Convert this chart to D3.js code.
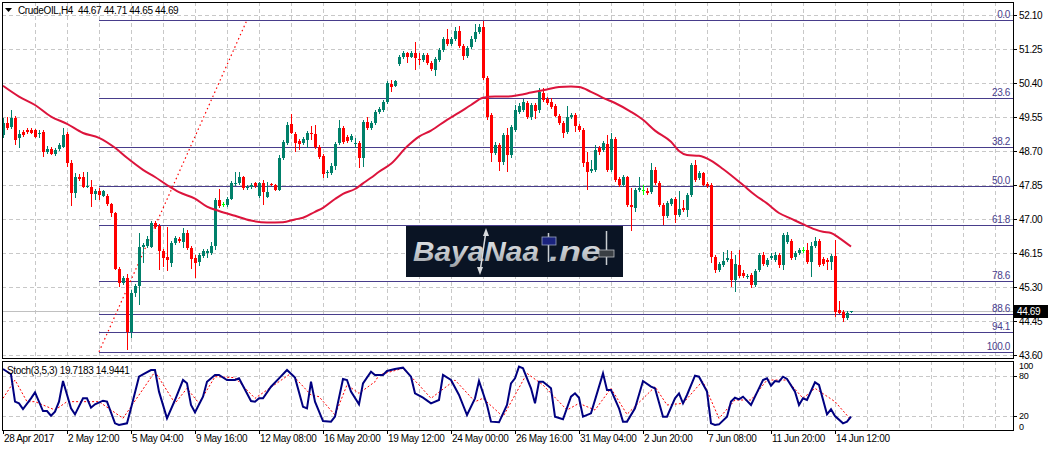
<!DOCTYPE html>
<html><head><meta charset="utf-8">
<script src="https://cdn.jsdelivr.net/npm/d3@7"></script>
<style>
body{margin:0;background:#fff;}
svg{display:block;font-family:"Liberation Sans",Arial,sans-serif;}
</style></head><body>
<svg id="c" width="1053" height="451"></svg>
<script>
// ---------- DATA ----------
const opens = [49.10,49.40,49.30,49.53,49.03,49.18,49.23,49.23,49.23,49.13,49.18,48.68,48.75,48.63,48.75,48.80,49.13,48.40,47.65,48.05,48.05,47.80,47.80,47.63,47.70,47.58,47.58,47.38,47.15,45.75,45.40,45.53,44.18,45.15,45.33,46.30,46.33,46.30,46.90,46.83,46.20,46.05,45.90,46.40,46.50,46.43,46.65,46.28,46.03,45.93,46.08,46.15,46.15,46.33,47.48,47.38,47.35,47.50,47.88,47.90,48.05,47.78,47.80,47.90,47.58,47.90,47.55,47.88,47.85,47.73,48.53,48.90,49.38,49.13,48.95,48.90,48.98,49.15,49.13,48.80,48.58,48.15,48.15,48.33,48.90,49.28,49.05,48.98,48.88,48.90,48.53,49.43,49.28,49.40,49.68,49.73,49.93,50.38,50.33,50.88,51.05,51.15,51.05,51.15,51.00,50.98,51.10,50.90,50.73,50.98,51.23,51.50,51.38,51.50,51.70,51.33,51.08,51.30,51.50,51.68,51.80,50.53,49.60,48.65,48.85,48.43,49.10,48.60,49.23,49.68,49.73,49.90,49.55,49.85,49.73,50.15,50.00,49.93,49.83,49.58,49.40,49.18,49.55,49.60,49.33,49.23,48.43,48.20,48.23,48.78,48.73,48.88,48.23,49.00,48.00,47.85,48.05,47.35,47.28,47.73,47.73,47.70,47.68,48.23,47.90,47.35,47.08,47.38,47.50,47.10,47.28,47.23,47.60,48.35,48.03,48.15,47.88,47.85,46.05,45.73,45.85,45.98,46.00,45.48,45.85,45.65,45.55,45.60,45.35,45.73,46.10,45.85,46.03,45.98,46.10,45.85,46.43,46.45,46.05,46.15,46.23,46.23,45.93,46.33,46.45,46.00,45.98,45.93,46.08,44.73,44.68,44.53,44.67];
const highs = [49.53,49.55,49.73,49.58,49.23,49.23,49.28,49.28,49.25,49.23,49.23,48.83,48.80,48.78,48.90,49.28,49.18,48.48,48.15,48.13,48.18,48.18,47.98,47.75,47.78,47.73,47.63,47.40,47.18,45.80,45.58,45.63,45.23,45.38,46.65,46.40,46.58,46.95,46.95,46.88,46.25,46.80,46.45,46.58,46.55,46.78,46.73,46.33,46.10,46.15,46.25,46.25,46.43,47.53,47.75,47.43,47.55,47.95,48.18,48.18,48.08,47.85,47.90,47.93,47.93,47.98,47.93,47.90,47.88,48.60,48.98,49.43,49.63,49.18,49.00,49.05,49.20,49.33,49.35,48.85,48.63,48.23,48.40,48.93,49.48,49.33,49.10,49.13,49.03,48.95,49.48,49.55,49.45,49.73,49.80,49.98,50.45,50.48,50.48,51.10,51.20,51.18,51.20,51.43,51.15,51.15,51.15,50.95,51.05,51.28,51.55,51.75,51.55,51.80,51.83,51.38,51.33,51.58,51.88,51.88,51.95,50.58,49.65,48.93,48.90,49.15,49.28,49.35,49.85,49.90,50.00,49.95,49.90,49.90,50.28,50.28,50.05,50.03,49.88,49.63,49.45,49.83,49.65,49.65,49.38,49.28,48.68,48.48,48.85,48.83,48.95,49.10,49.15,49.05,48.05,48.10,48.08,47.78,47.78,48.05,47.85,47.78,48.40,48.30,47.95,47.40,47.45,47.53,47.55,47.70,47.48,47.65,48.40,48.48,48.20,48.18,47.93,47.90,46.10,45.93,46.18,46.23,46.20,46.10,46.23,45.73,45.63,45.65,45.75,46.15,46.18,46.03,46.15,46.18,46.15,46.65,46.68,46.50,46.20,46.28,46.30,46.40,46.43,46.55,46.50,46.05,46.03,46.13,46.48,44.95,44.73,44.70,44.71];
const lows = [49.03,49.23,49.25,48.85,48.78,49.05,49.13,49.13,49.03,49.03,48.55,48.63,48.60,48.58,48.70,48.78,48.30,47.33,47.53,47.95,47.78,47.78,47.30,47.48,47.48,47.55,47.33,47.05,45.73,45.30,45.35,43.73,44.03,45.05,44.85,45.90,46.28,46.28,46.75,45.73,45.80,45.70,45.80,46.35,46.40,46.28,46.23,45.75,45.53,45.83,46.03,46.03,46.10,46.23,47.28,47.30,47.30,47.48,47.83,47.85,47.73,47.73,47.75,47.78,47.53,47.35,47.53,47.83,47.70,47.70,48.48,48.85,49.13,48.68,48.73,48.85,48.78,48.98,48.75,48.50,48.03,48.03,48.10,48.23,48.85,48.88,48.90,48.93,48.78,48.28,48.30,49.23,49.23,49.35,49.63,49.68,49.88,50.18,50.30,50.83,51.00,50.90,51.03,50.73,50.85,50.93,50.85,50.70,50.58,50.93,51.18,51.33,51.33,51.45,51.28,50.98,51.03,51.25,51.43,51.63,50.48,49.48,48.43,48.60,48.20,48.35,48.18,48.53,49.18,49.63,49.68,49.50,49.48,49.50,49.65,49.93,49.85,49.75,49.55,49.35,49.03,49.13,49.50,49.18,49.18,48.30,47.73,48.15,48.18,48.60,48.68,48.18,48.18,47.93,47.80,47.80,47.30,46.70,47.18,47.68,47.60,47.60,47.63,47.85,47.30,46.85,47.03,47.33,46.90,47.05,47.18,47.05,47.55,47.93,47.98,47.83,47.78,45.90,45.65,45.68,45.80,45.93,45.30,45.18,45.53,45.53,45.50,45.28,45.30,45.68,45.83,45.80,45.98,45.93,45.78,45.73,46.38,45.98,45.98,46.10,46.15,45.88,45.55,46.28,45.80,45.83,45.73,45.73,44.55,44.63,44.43,44.48,44.65];
const closes = [49.40,49.28,49.53,48.98,49.13,49.10,49.18,49.15,49.05,49.15,48.68,48.75,48.63,48.73,48.85,49.10,48.40,47.65,48.05,48.00,47.80,47.83,47.63,47.70,47.60,47.70,47.38,47.15,45.75,45.40,45.53,44.18,45.15,45.33,46.30,46.35,46.50,46.90,46.80,46.20,46.03,45.98,46.40,46.53,46.45,46.65,46.28,46.00,45.90,46.10,46.20,46.20,46.33,47.48,47.33,47.38,47.50,47.90,47.90,48.05,47.78,47.80,47.85,47.83,47.90,47.68,47.68,47.85,47.73,48.53,48.93,49.35,49.15,48.90,48.88,49.00,49.15,49.13,48.80,48.55,48.13,48.18,48.33,48.88,49.28,48.93,48.95,49.08,48.90,48.53,49.43,49.28,49.40,49.68,49.75,49.93,50.40,50.30,50.45,51.05,51.15,51.05,51.15,51.03,50.98,51.10,50.90,50.75,51.00,51.23,51.50,51.38,51.50,51.70,51.33,51.08,51.28,51.50,51.68,51.80,50.53,49.55,48.65,48.85,48.43,49.10,48.60,49.30,49.73,49.83,49.93,49.55,49.85,49.70,50.18,49.98,49.90,49.80,49.58,49.40,49.15,49.55,49.60,49.33,49.23,48.40,48.18,48.25,48.73,48.68,48.90,48.23,49.00,47.98,47.85,48.05,47.35,47.30,47.73,47.78,47.73,47.65,48.23,47.90,47.35,47.08,47.40,47.50,47.10,47.25,47.23,47.60,48.35,47.98,48.15,47.85,47.83,46.05,45.73,45.88,45.95,46.03,45.48,45.88,45.58,45.58,45.58,45.35,45.70,46.10,45.88,45.98,46.08,46.10,45.85,46.60,46.60,46.03,46.15,46.23,46.23,45.93,46.33,46.45,45.85,45.88,45.93,46.08,44.68,44.65,44.53,44.65,44.69];

// moving average (read at sample bars)
const maIdx = [0,4,8,12,16,20,24,28,31,35,38,41,44,48,51,54,58,62,66,70,73,75,78,80,83,85,88,90,92,94,97,101,104,107,111,114,117,120,123,126,129,132,136,139,142,144,147,150,153,157,160,163,167,169,171,174,177,180,185,188,191,194,197,200,203,205,207,209,212];
const maVal = [50.33,50.06,49.85,49.56,49.38,49.15,49.03,48.78,48.53,48.23,48.05,47.85,47.67,47.51,47.31,47.20,47.08,46.96,46.91,46.92,46.99,47.03,47.18,47.28,47.50,47.63,47.75,47.89,48.03,48.18,48.38,48.81,49.06,49.21,49.48,49.66,49.85,50.03,50.06,50.06,50.10,50.16,50.24,50.30,50.31,50.30,50.18,50.03,49.90,49.68,49.48,49.21,48.93,48.70,48.60,48.58,48.46,48.25,47.85,47.60,47.39,47.15,47.01,46.87,46.74,46.68,46.65,46.53,46.31];

// stochastic %K and %D (read at sample bars)
const kIdx = [0,2,3,4,5,7,8,10,11,12,13,14,15,17,18,20,21,22,23,25,26,28,29,31,32,34,35,37,38,39,41,43,45,46,47,48,50,51,53,54,56,58,59,62,63,64,65,67,69,71,73,75,76,77,78,80,82,83,85,86,87,89,90,92,93,95,96,98,100,102,103,105,107,109,110,112,114,116,118,119,121,122,124,126,127,128,129,130,132,133,134,135,137,138,140,142,143,144,145,147,150,151,152,154,155,156,158,160,162,163,165,166,168,169,170,171,173,174,176,177,178,179,181,182,183,184,185,187,188,190,191,192,193,194,195,196,198,199,200,201,203,204,206,207,208,210,211,212];
const kVal = [89.7,82,41.7,39.2,30.9,46.6,55.4,27.9,27.9,21,26.9,41.7,72,31.9,23,46.6,46.6,32.8,37.8,43.1,41.7,9.8,7.4,9.8,31.9,78.4,81.9,88.2,88.2,56.4,17.2,44.1,73.5,68.6,36.8,26,49,71,80.9,80.9,73.5,73.5,76,42.6,41.7,46.6,46.6,63.7,76,88.2,77,34.3,31.9,71,41.7,13.2,12.3,19.6,75,73.5,56.4,37.8,68.6,85.8,80.9,80.9,86.8,89.7,91.7,78.4,53.9,47.5,39.2,44.1,80.9,73.5,51.5,22,46.6,72,36.8,12.3,11.3,36.8,68.6,76,93.1,90.7,61.3,39.2,71,71,61.3,19.6,15.7,49,53.9,47.5,19.6,24.5,83.3,58.8,58.8,31.9,12.3,12.3,31.9,72,63.7,61.3,19.6,19.6,46.6,53.9,39.2,51.5,79.9,78.4,56.4,9.8,7.4,8.3,19.6,41.7,47.5,45.1,49,36.8,49,73.5,76,65.2,72,71,78.4,75,56.4,36.8,46.6,44.1,70.1,66.2,23,30.4,20.6,9.8,12.3,19.7];
const dIdx = [0,3,6,8,13,16,24,30,38,43,46,49,53,58,63,72,77,79,83,86,89,93,94,100,104,107,113,118,120,125,131,135,141,144,148,152,156,163,166,170,174,175,179,183,187,191,196,200,203,208,212];
const dVal = [46.6,73.5,41.7,41.7,29.4,41.7,41.7,17.2,85.8,39.2,61.3,39.2,78.4,77,46.6,83.3,51.5,49,22,66.2,53.9,71,80.9,90.7,66.2,46.6,73.5,41.7,46.6,19.6,83.3,66.2,29.4,39.2,29.4,61.3,23,63.7,36.8,39.2,66.2,71,17.2,44.1,44.1,73.5,73.5,46.6,61.3,41.7,14.9];

const priceTicks = [52.10,51.25,50.40,49.55,48.70,47.85,47.00,46.15,45.30,44.45,43.60];
const dateIdx = [0,16,32,48,64,80,96,112,128,144,160,176,192,208];
const dateLabels = ["28 Apr 2017","2 May 12:00","5 May 04:00","9 May 16:00","12 May 08:00","16 May 20:00","19 May 12:00","24 May 00:00","26 May 16:00","31 May 04:00","2 Jun 20:00","7 Jun 08:00","11 Jun 20:00","14 Jun 12:00"];
const fibLevels = [0,23.6,38.2,50,61.8,78.6,88.6,94.1,100];
const fibHigh = 51.975, fibLow = 43.68, fibStartIdx = 24, fibEndIdx = 61;
const bid = 44.69;
const stochLevels = [80,20];
const stochAxis = [100,80,20,0];
const title = "CrudeOIL,H4  44.67 44.71 44.65 44.69";
const stochTitle = "Stoch(3,5,3) 19.7183 14.9441";

// ---------- LAYOUT ----------
const L = 2, R = 1013, MT = 2, MB = 358, ST = 361, SB = 430;
const x = d3.scaleLinear().domain([0, 212]).range([3, 851]);
const y = d3.scaleLinear().domain([43.60, 52.10]).range([355, 15]);
const ys = d3.scaleLinear().domain([0, 100]).range([SB, ST + 1]);
const svg = d3.select("#c");
const FONT = 10, LS = "-0.35px";
const gridC = "#c8c8c8", fibC = "#483d8b";

svg.append("rect").attr("width", 1053).attr("height", 451).attr("fill", "#fff");
const defs = svg.append("defs");
defs.append("clipPath").attr("id", "cm").append("rect").attr("x", L).attr("y", MT).attr("width", R - L).attr("height", MB - MT);
defs.append("clipPath").attr("id", "cs").append("rect").attr("x", L).attr("y", ST).attr("width", R - L).attr("height", SB - ST);
const lg = defs.append("linearGradient").attr("id", "silver").attr("x1", 0).attr("y1", 0).attr("x2", 0).attr("y2", 1);
lg.append("stop").attr("offset", "0").attr("stop-color", "#e6e8ea");
lg.append("stop").attr("offset", "0.55").attr("stop-color", "#c3c7cb");
lg.append("stop").attr("offset", "1").attr("stop-color", "#9aa0a6");

const main = svg.append("g").attr("clip-path", "url(#cm)");
const vGrid = d3.range(8, 250, 8);
// grid
main.selectAll(".vg").data(vGrid).join("line")
  .attr("x1", d => Math.round(x(d)) + 0.5).attr("x2", d => Math.round(x(d)) + 0.5)
  .attr("y1", MT).attr("y2", MB).attr("stroke", gridC).attr("stroke-dasharray", "4,3");
main.selectAll(".hg").data(priceTicks).join("line")
  .attr("x1", L).attr("x2", R).attr("y1", d => Math.round(y(d)) + 0.5).attr("y2", d => Math.round(y(d)) + 0.5)
  .attr("stroke", gridC).attr("stroke-dasharray", "4,3");

// bid line
main.append("line").attr("x1", L).attr("x2", R).attr("y1", Math.round(y(bid)) + 0.5).attr("y2", Math.round(y(bid)) + 0.5)
  .attr("stroke", "#c0c0c0");

// fib levels
const fibPrice = lv => fibHigh - (fibHigh - fibLow) * lv / 100;
main.selectAll(".fib").data(fibLevels).join("line")
  .attr("x1", x(fibStartIdx)).attr("x2", R)
  .attr("y1", d => Math.round(y(fibPrice(d))) + 0.5).attr("y2", d => Math.round(y(fibPrice(d))) + 0.5)
  .attr("stroke", fibC).attr("stroke-width", 1.2);
main.append("line").attr("x1", x(fibStartIdx)).attr("y1", y(fibLow)).attr("x2", x(fibEndIdx)).attr("y2", y(fibHigh))
  .attr("stroke", "#ff0000").attr("stroke-dasharray", "1.5,3").attr("stroke-width", 1.2);
main.selectAll(".fibt").data(fibLevels).join("text")
  .attr("x", R - 3).attr("y", d => Math.round(y(fibPrice(d))) - 2)
  .attr("text-anchor", "end").attr("font-size", FONT).attr("letter-spacing", LS).attr("fill", fibC)
  .text(d => d.toFixed(1));

// watermark logo
const wm = main.append("g");
wm.append("rect").attr("x", 406).attr("y", 226).attr("width", 217).attr("height", 51).attr("fill", "#0a1424");
const wt = wm.append("text").attr("y", 261).attr("font-size", 27).attr("font-weight", "bold").attr("font-style", "italic")
  .attr("fill", "url(#silver)");
wt.append("tspan").attr("x", 413).attr("textLength", 126).attr("lengthAdjust", "spacingAndGlyphs").text("BayaNaa");
wt.append("tspan").attr("x", 549).attr("textLength", 52).attr("lengthAdjust", "spacingAndGlyphs").text(".ne");
// arrow through the N
wm.append("line").attr("x1", 480).attr("y1", 272).attr("x2", 486).attr("y2", 231).attr("stroke", "#d8dbde").attr("stroke-width", 1.5);
wm.append("path").attr("d", "M486,228 L483,236 L489,236 Z").attr("fill", "#d8dbde");
wm.append("path").attr("d", "M480,275 L477,267 L483,267 Z").attr("fill", "#d8dbde");
// candle symbols
wm.append("line").attr("x1", 548.5).attr("x2", 548.5).attr("y1", 233).attr("y2", 262).attr("stroke", "#c9cdd1").attr("stroke-width", 1.5);
wm.append("rect").attr("x", 542).attr("y", 237).attr("width", 14).attr("height", 8).attr("fill", "#1a237e").attr("stroke", "#9aa4c0").attr("stroke-width", 0.8);
wm.append("line").attr("x1", 606.5).attr("x2", 606.5).attr("y1", 231).attr("y2", 265).attr("stroke", "#c9cdd1").attr("stroke-width", 1.5);
wm.append("rect").attr("x", 599).attr("y", 250).attr("width", 15).attr("height", 7).attr("fill", "#3a3f44").attr("stroke", "#b8bcc0").attr("stroke-width", 0.8);

// candles
const bars = d3.range(opens.length).map(i => ({i, o: opens[i], h: highs[i], l: lows[i], c: closes[i]}));
const col = d => d.c > d.o ? "#00806a" : (d.c < d.o ? "#ff0000" : "#00ff00");
const cg = main.append("g").attr("shape-rendering", "crispEdges");
cg.selectAll(".wick").data(bars).join("rect")
  .attr("x", d => Math.round(x(d.i))).attr("width", 1)
  .attr("y", d => y(d.h)).attr("height", d => Math.max(1, y(d.l) - y(d.h)))
  .attr("fill", col);
cg.selectAll(".body").data(bars).join("rect")
  .attr("x", d => Math.round(x(d.i)) - 1).attr("width", 3)
  .attr("y", d => y(Math.max(d.o, d.c))).attr("height", d => Math.max(1, Math.abs(y(d.o) - y(d.c))))
  .attr("fill", col);

// moving average
main.append("path").datum(d3.zip(maIdx, maVal))
  .attr("d", d3.line().x(d => x(d[0])).y(d => y(d[1])).curve(d3.curveMonotoneX))
  .attr("fill", "none").attr("stroke", "#dc143c").attr("stroke-width", 2);

// frame
svg.append("rect").attr("x", L + 0.5).attr("y", MT + 0.5).attr("width", R - L).attr("height", MB - MT)
  .attr("fill", "none").attr("stroke", "#000");

// title
svg.append("path").attr("d", "M5,8 L12,8 L8.5,12 Z").attr("fill", "#000");
svg.append("text").attr("x", 18).attr("y", 14).attr("font-size", FONT).attr("letter-spacing", LS).attr("fill", "#000")
  .attr("xml:space", "preserve").style("white-space", "pre").text(title);

// price axis
const pa = svg.append("g");
pa.selectAll("line").data(priceTicks).join("line")
  .attr("x1", R).attr("x2", R + 4).attr("y1", d => Math.round(y(d)) + 0.5).attr("y2", d => Math.round(y(d)) + 0.5).attr("stroke", "#000");
pa.selectAll("text").data(priceTicks).join("text")
  .attr("x", R + 6).attr("y", d => y(d) + 3.5).attr("font-size", FONT).attr("letter-spacing", LS).attr("fill", "#000")
  .text(d => d.toFixed(2));
svg.append("rect").attr("x", R + 1).attr("y", Math.round(y(bid)) - 6).attr("width", 34).attr("height", 13).attr("fill", "#000");
svg.append("text").attr("x", R + 4).attr("y", y(bid) + 4).attr("font-size", FONT).attr("letter-spacing", LS).attr("fill", "#fff").text(bid.toFixed(2));

// stochastic pane
const sp = svg.append("g").attr("clip-path", "url(#cs)");
sp.selectAll(".vg").data(vGrid).join("line")
  .attr("x1", d => Math.round(x(d)) + 0.5).attr("x2", d => Math.round(x(d)) + 0.5)
  .attr("y1", ST).attr("y2", SB).attr("stroke", gridC).attr("stroke-dasharray", "4,3");
sp.selectAll(".hg").data(stochLevels).join("line")
  .attr("x1", L).attr("x2", R).attr("y1", d => Math.round(ys(d)) + 0.5).attr("y2", d => Math.round(ys(d)) + 0.5)
  .attr("stroke", gridC).attr("stroke-dasharray", "4,3");
sp.append("path").datum(d3.zip(dIdx, dVal))
  .attr("d", d3.line().x(d => x(d[0])).y(d => ys(d[1])))
  .attr("fill", "none").attr("stroke", "#ff0000").attr("stroke-width", 1).attr("stroke-dasharray", "2,2");
sp.append("path").datum(d3.zip(kIdx, kVal))
  .attr("d", d3.line().x(d => x(d[0])).y(d => ys(d[1])))
  .attr("fill", "none").attr("stroke", "#000080").attr("stroke-width", 2);
svg.append("text").attr("x", 7).attr("y", 374).attr("font-size", FONT).attr("letter-spacing", LS).attr("fill", "#000").text(stochTitle);
svg.append("rect").attr("x", L + 0.5).attr("y", ST + 0.5).attr("width", R - L).attr("height", SB - ST)
  .attr("fill", "none").attr("stroke", "#000");
// axis labels: 100 and 0 pinned to the pane edges, 80 and 20 at their levels
const sLabY = v => v === 100 ? ST + 8 : (v === 0 ? SB : ys(v) + 3);
svg.selectAll(".sl").data(stochAxis).join("text")
  .attr("x", R + 6).attr("y", sLabY).attr("font-size", 9).attr("letter-spacing", LS).attr("fill", "#000").text(d => d);
svg.selectAll(".st").data(stochLevels).join("line")
  .attr("x1", R).attr("x2", R + 4).attr("y1", d => Math.round(ys(d)) + 0.5).attr("y2", d => Math.round(ys(d)) + 0.5).attr("stroke", "#000");

// date axis
const da = svg.append("g");
da.selectAll("line").data(dateIdx).join("line")
  .attr("x1", d => Math.round(x(d)) + 0.5).attr("x2", d => Math.round(x(d)) + 0.5).attr("y1", SB).attr("y2", SB + 4).attr("stroke", "#000");
da.selectAll("text").data(dateIdx).join("text")
  .attr("x", d => x(d) + 1).attr("y", 442).attr("font-size", FONT).attr("letter-spacing", LS).attr("fill", "#000")
  .text((d, i) => dateLabels[i]);
</script>
</body></html>
